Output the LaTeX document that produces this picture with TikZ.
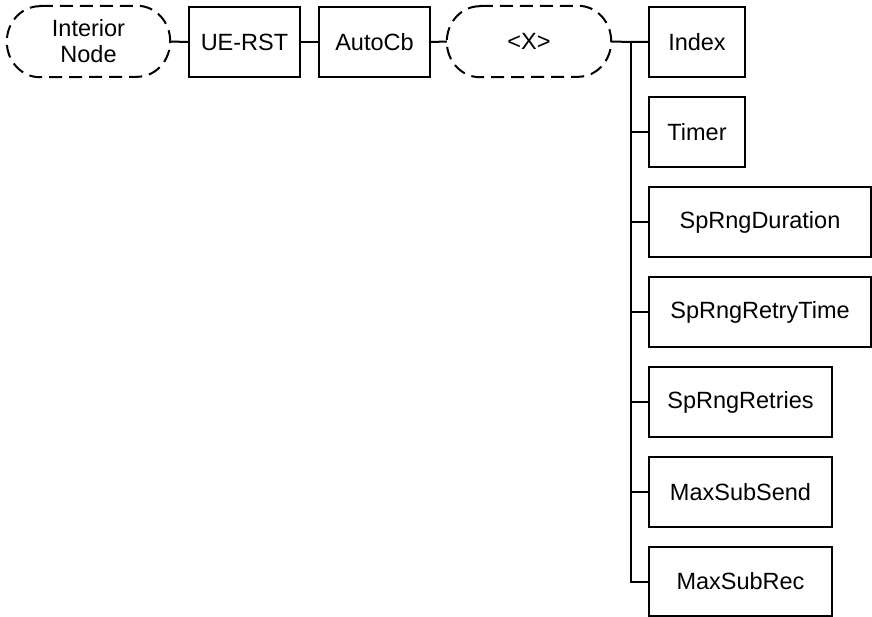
\documentclass[tikz,border=0pt]{standalone}
\usepackage{fontspec}
\setmainfont{Liberation Sans}
\begin{document}
\begin{tikzpicture}[x=1pt,y=-1pt,
  every node/.style={font=\fontsize{23.5}{26}\selectfont, inner sep=0pt, align=center},
  box/.style={draw, line width=2pt, minimum height=70pt},
  term/.style={minimum height=71pt},
  termline/.style={line width=2pt, dash pattern=on 13pt off 7pt},
  conn/.style={draw, line width=2pt, line join=miter}]
\useasboundingbox (0,0) rectangle (872,617);
\node[term, minimum width=163pt] (in) at (88.5,41.5) {Interior\\Node};
\node[box, minimum width=111pt] (ue) at (244.5,42) {UE-RST};
\node[box, minimum width=111pt] (auto) at (374.5,42) {AutoCb};
\node[term, minimum width=164pt] (x) at (529,41.5) {<X>};
\node[box, minimum width=96pt] (index) at (697,42) {Index};
\node[box, minimum width=96pt] (timer) at (697,132) {Timer};
\node[box, minimum width=222pt] (dur) at (760,222) {SpRngDuration};
\node[box, minimum width=222pt] (rtime) at (760,312) {SpRngRetryTime};
\node[box, minimum width=183pt] (retries) at (740.5,402) {SpRngRetries};
\node[box, minimum width=183pt] (send) at (740.5,492) {MaxSubSend};
\node[box, minimum width=183pt, minimum height=69pt] (rec) at (740.5,581.5) {MaxSubRec};
\foreach \t in {in,x}
  \draw[termline] ([xshift=33pt]\t.north west) -- ([xshift=-33pt]\t.north east)
    arc[start angle=90, end angle=-90, x radius=33pt, y radius=35.5pt]
    -- ([xshift=33pt]\t.south west)
    arc[start angle=270, end angle=90, x radius=33pt, y radius=35.5pt] -- cycle;
\coordinate (trunk) at (631,42);
\path[conn] (in.east) -- (ue.west);
\path[conn] (ue.east) -- (auto.west);
\path[conn] (auto.east) -- (x.west);
\path[conn] (x.east) -- (trunk) -- (index.west);
\path[conn] (trunk) |- (rec.west);
\foreach \n in {timer,dur,rtime,retries,send}
  \path[conn] (trunk |- \n.west) -- (\n.west);
\end{tikzpicture}
\end{document}
